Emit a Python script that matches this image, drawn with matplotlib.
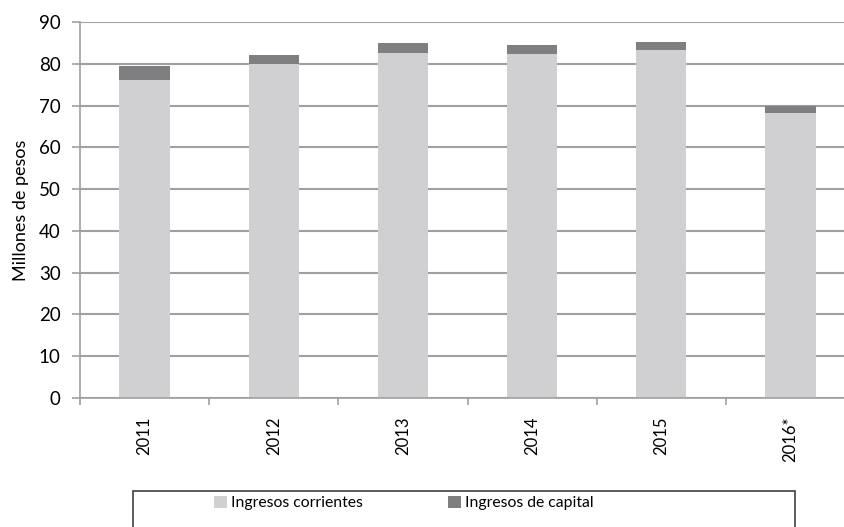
import numpy as np
import matplotlib.pyplot as plt
from matplotlib.patches import Rectangle

plt.rcParams['font.family'] = ['Lato', 'DejaVu Sans']

years = ['2011', '2012', '2013', '2014', '2015', '2016*']
corrientes = [76.0, 79.9, 82.6, 82.3, 83.3, 68.1]
capital = [3.5, 2.2, 2.3, 2.2, 1.9, 1.9]

light = '#D0D0D2'
dark = '#7F7F81'
grid_col = '#A0A0A0'

fig = plt.figure(figsize=(8.44, 5.27), dpi=100)
ax = fig.add_axes([80/844, 1-398/527, 775/844, 376/527])

x = np.arange(len(years)) + 0.5
bw = 0.39
ax.bar(x, corrientes, width=bw, color=light, label='Ingresos corrientes', zorder=2)
ax.bar(x, capital, width=bw, bottom=corrientes, color=dark, label='Ingresos de capital', zorder=2)

ax.set_xlim(0, len(years))
ax.set_ylim(0, 90)
ax.set_yticks(np.arange(0, 91, 10))
ax.grid(axis='y', color=grid_col, linewidth=1.5, zorder=0)
ax.set_axisbelow(True)

for s in ['top', 'right']:
    ax.spines[s].set_visible(False)
for s in ['left', 'bottom']:
    ax.spines[s].set_color(grid_col)
    ax.spines[s].set_linewidth(1.2)

ax.set_xticks(x)
ax.set_xticklabels(years, rotation=90, fontsize=12)
ax.tick_params(axis='x', which='major', length=0, pad=13)
ax.set_xticks(np.arange(0, len(years) + 1), minor=True)
ax.tick_params(axis='x', which='minor', length=5, color=grid_col, width=1.2)
ax.tick_params(axis='y', length=6, color=grid_col, width=1.2, labelsize=13.5, pad=8)

ax.set_ylabel('Millones de pesos', fontsize=13, labelpad=7)

fig.patches.append(Rectangle((133/844, -0.05), 662/844, 1-491/527+0.05,
                             transform=fig.transFigure, fill=False,
                             edgecolor='#404040', linewidth=1.2))
fig.legend(loc='center', bbox_to_anchor=(404/844, 1-503/527), ncol=2,
           frameon=False, fontsize=11.3, handlelength=0.8, handleheight=0.8,
           handletextpad=0.3, columnspacing=5.4)

fig.savefig('out.png', dpi=100)
